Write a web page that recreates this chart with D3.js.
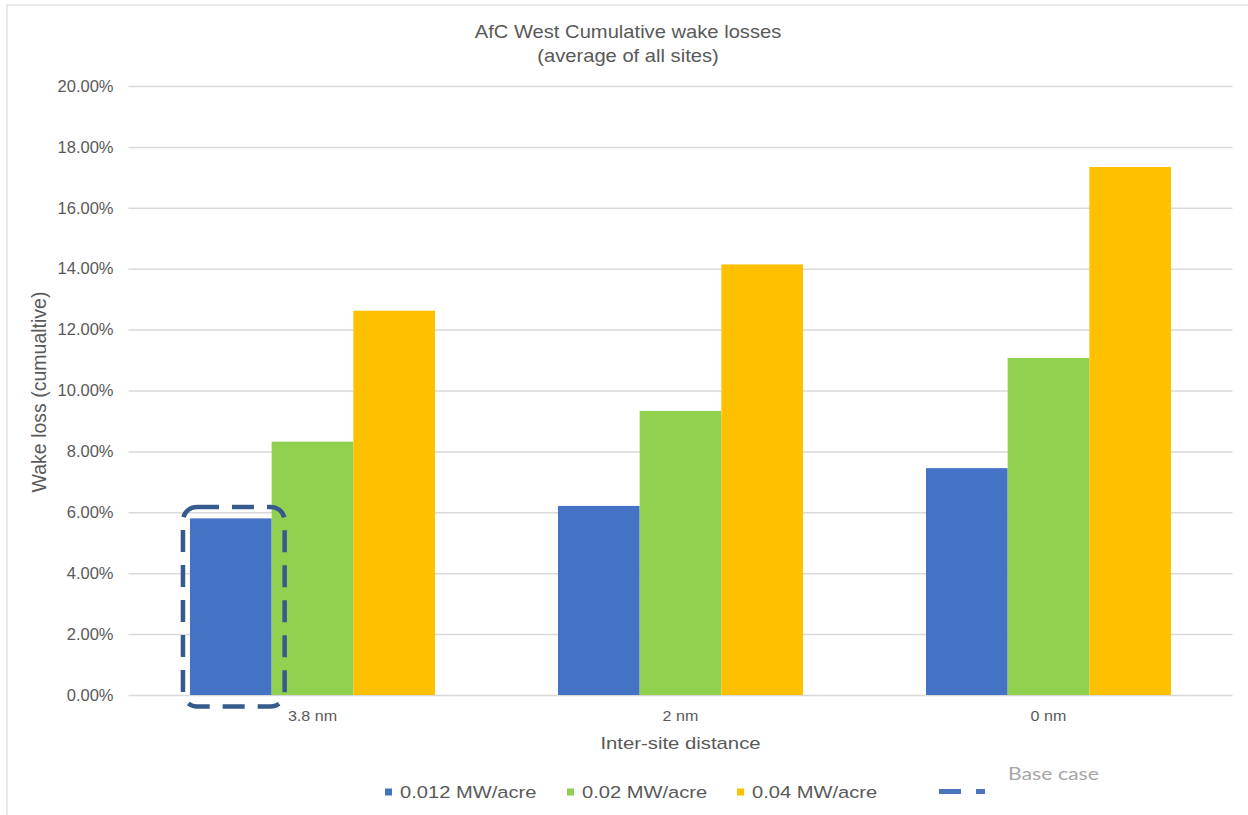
<!DOCTYPE html>
<html>
<head>
<meta charset="utf-8">
<script src="https://cdn.jsdelivr.net/npm/d3@7"></script>
<style>
  body { margin: 0; background: #ffffff; }
  svg { display: block; }
</style>
</head>
<body>
<svg id="chart" width="1248" height="815"></svg>
<script>
// Wake loss by inter-site distance and capacity density
const categories = ["3.8 nm", "2 nm", "0 nm"];
const seriesNames = ["0.012 MW/acre", "0.02 MW/acre", "0.04 MW/acre"];
const values012 = [0.0580, 0.0621, 0.0745];
const values02  = [0.0832, 0.0933, 0.1107];
const values04  = [0.1262, 0.1414, 0.1734];
const yTickValues = [0, 0.02, 0.04, 0.06, 0.08, 0.10, 0.12, 0.14, 0.16, 0.18, 0.20];
const titleLines = ["AfC West Cumulative wake losses", "(average of all sites)"];
const yAxisTitle = "Wake loss (cumualtive)";
const xAxisTitle = "Inter-site distance";
const baseCaseLabel = "Base case";
const baseCaseCategory = "3.8 nm";
const baseCaseSeries = "0.012 MW/acre";

const seriesValues = [values012, values02, values04];
const colors = ["#4472c4", "#92d050", "#ffc000"];
const textGray = "#595959";
const gridGray = "#d9d9d9";
const font = "'Liberation Sans', Arial, sans-serif";

const svg = d3.select("#chart");

// chart frame
svg.append("rect")
  .attr("x", 7).attr("y", 5).attr("width", 1300).attr("height", 900)
  .attr("fill", "none").attr("stroke", gridGray).attr("stroke-width", 1.2);

const plot = { left: 128.5, right: 1232.5, top: 86, bottom: 695 };

const x0 = d3.scaleBand()
  .domain(categories)
  .range([plot.left, plot.right])
  .paddingInner(0.334)
  .paddingOuter(0.167);

const x1 = d3.scaleBand()
  .domain(seriesNames)
  .range([0, x0.bandwidth()]);

const y = d3.scaleLinear()
  .domain([0, 0.20])
  .range([plot.bottom, plot.top]);

// helper: text with a horizontal stretch factor
function label(parent, x, yy, text, opts) {
  const g = parent.append("g")
    .attr("transform", `translate(${x},${yy}) scale(${opts.sx || 1},1)`);
  return g.append("text")
    .attr("x", 0).attr("y", 0)
    .attr("text-anchor", opts.anchor || "start")
    .attr("font-family", opts.family || font)
    .attr("font-size", opts.size)
    .attr("fill", opts.color || textGray)
    .text(text);
}

// gridlines + y axis labels
const yAxis = d3.axisLeft(y)
  .tickValues(yTickValues)
  .tickFormat(d3.format(".2%"))
  .tickSize(-(plot.right - plot.left))
  .tickPadding(15);

const yAxisG = svg.append("g")
  .attr("transform", `translate(${plot.left},0)`)
  .call(yAxis);
yAxisG.select(".domain").remove();
yAxisG.selectAll(".tick line")
  .attr("stroke", gridGray).attr("stroke-width", 1.5);
yAxisG.selectAll(".tick text")
  .attr("fill", textGray)
  .attr("font-family", font)
  .attr("font-size", 16.5);

// bars
const groups = svg.append("g").selectAll("g")
  .data(categories)
  .join("g")
  .attr("transform", d => `translate(${x0(d)},0)`);

groups.selectAll("rect")
  .data((d, i) => seriesNames.map((s, j) => ({ series: s, value: seriesValues[j][i], color: colors[j] })))
  .join("rect")
  .attr("x", d => x1(d.series))
  .attr("width", x1.bandwidth())
  .attr("y", d => y(d.value))
  .attr("height", d => y(0) - y(d.value))
  .attr("fill", d => d.color);

// x axis labels
const xAxis = d3.axisBottom(x0).tickSize(0).tickPadding(0);
const xAxisG = svg.append("g")
  .attr("transform", `translate(0,${plot.bottom})`)
  .call(xAxis);
xAxisG.select(".domain").remove();
xAxisG.selectAll(".tick text").remove();
xAxisG.selectAll(".tick").each(function(d) {
  label(d3.select(this), 0, 26, d, { anchor: "middle", size: 14, sx: 1.15 });
});

// base case highlight around the reference bar
const bx = x0(baseCaseCategory) + x1(baseCaseSeries);
const bIdx = categories.indexOf(baseCaseCategory);
const bVal = values012[bIdx];
svg.append("rect")
  .attr("x", bx - 7)
  .attr("y", y(bVal) - 11.5)
  .attr("width", x1.bandwidth() + 20)
  .attr("height", y(0) - y(bVal) + 23)
  .attr("rx", 14).attr("ry", 14)
  .attr("fill", "none")
  .attr("stroke", "#375a8c")
  .attr("stroke-width", 4.5)
  .attr("stroke-dasharray", "22,13");

// titles
label(svg, 628, 38, titleLines[0], { anchor: "middle", size: 18, sx: 1.12 });
label(svg, 628, 62, titleLines[1], { anchor: "middle", size: 18, sx: 1.12 });

svg.append("text")
  .attr("transform", `translate(46,392) rotate(-90)`)
  .attr("text-anchor", "middle")
  .attr("font-family", font)
  .attr("font-size", 19.5)
  .attr("fill", textGray)
  .text(yAxisTitle);

label(svg, (plot.left + plot.right) / 2, 749, xAxisTitle, { anchor: "middle", size: 16, sx: 1.27 });

// legend
const legendX = [385, 567, 737];
seriesNames.forEach((s, i) => {
  svg.append("rect")
    .attr("x", legendX[i]).attr("y", 788.5)
    .attr("width", 7).attr("height", 7)
    .attr("fill", colors[i]);
  label(svg, legendX[i] + 15, 798, s, { size: 16.5, sx: 1.22 });
});

svg.append("line")
  .attr("x1", 939).attr("x2", 986)
  .attr("y1", 791.5).attr("y2", 791.5)
  .attr("stroke", "#4a74bb")
  .attr("stroke-width", 5)
  .attr("stroke-dasharray", "22,15,9,100");

label(svg, 1008, 780, baseCaseLabel, { size: 18, sx: 1.18, family: "Lato, 'Open Sans', sans-serif", color: "#a6a6a6" });
</script>
</body>
</html>
